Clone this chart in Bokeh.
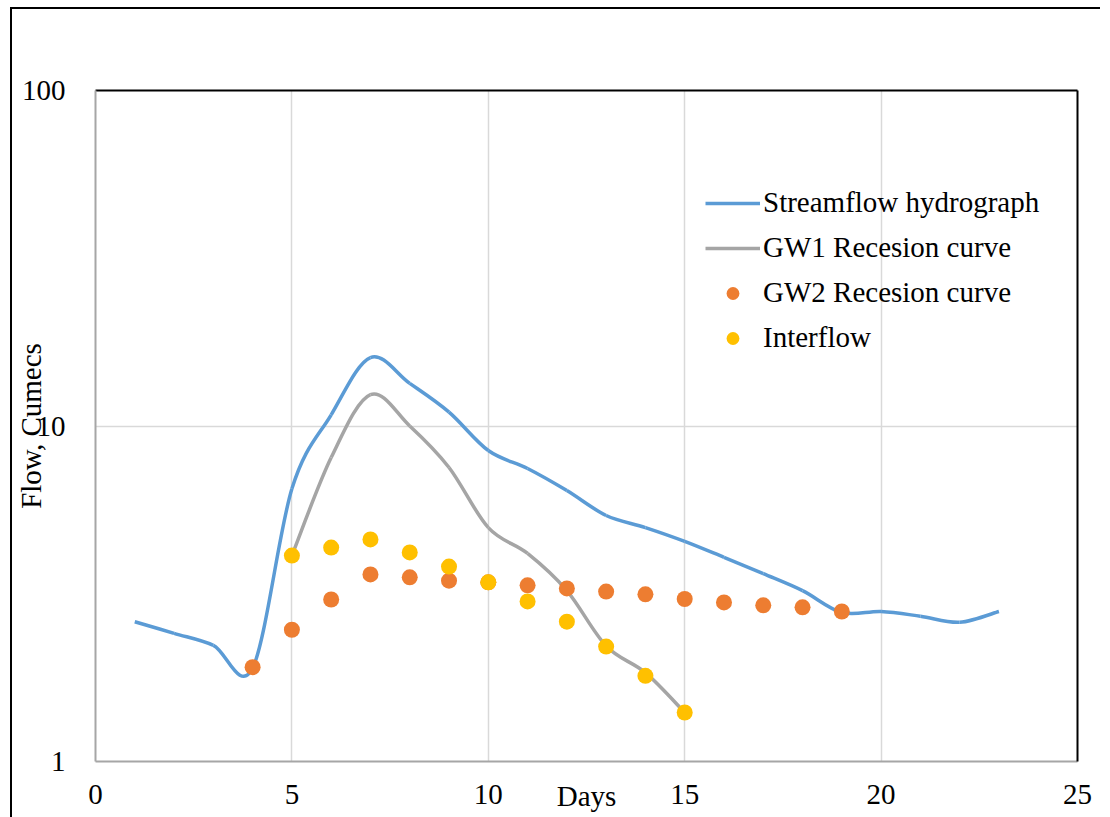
import math
from bokeh.plotting import figure
from bokeh.models import (Range1d, FixedTicker, LinearAxis, Legend, LegendItem,
                          ColumnDataSource)
from bokeh.embed import file_html
from bokeh.resources import INLINE

# ---- data ----
stream_days = list(range(1, 24))
stream_flow = [2.61, 2.41, 2.22, 1.90, 6.5, 10.8, 16.0, 13.4, 11.0, 8.45, 7.47, 6.42,
               5.41, 4.98, 4.53, 4.06, 3.63, 3.23, 2.78, 2.80, 2.71, 2.60, 2.80]

gw1_days = list(range(5, 16))
gw1_flow = [4.11, 8.05, 12.4, 10.0, 7.52, 4.98, 4.17, 3.23, 2.21, 1.84, 1.40]

gw2_days = list(range(4, 20))
gw2_flow = [1.91, 2.47, 3.04, 3.61, 3.54, 3.46, 3.42, 3.35, 3.28, 3.21, 3.15, 3.05,
            2.98, 2.92, 2.88, 2.80]

inter_days = list(range(5, 16))
inter_flow = [4.11, 4.34, 4.59, 4.20, 3.81, 3.42, 3.00, 2.61, 2.20, 1.80, 1.40]

x_ticks = [0, 5, 10, 15, 20, 25]
y_ticks = [1, 10, 100]

FONT = "'Liberation Serif', 'Times New Roman', serif"
BLUE, GREY, ORANGE, YELLOW = "#5B9BD5", "#A5A5A5", "#ED7D31", "#FFC000"


def smooth_segments(xs, ys):
    """Bezier control points (Catmull-Rom in screen space: linear x, log y)."""
    n = len(xs)
    ly = [math.log10(v) for v in ys]
    d = dict(x0=[], y0=[], x1=[], y1=[], cx0=[], cy0=[], cx1=[], cy1=[])
    for i in range(n - 1):
        p = max(i - 1, 0)
        q = min(i + 2, n - 1)
        d["x0"].append(xs[i]); d["y0"].append(ys[i])
        d["x1"].append(xs[i + 1]); d["y1"].append(ys[i + 1])
        d["cx0"].append(xs[i] + (xs[i + 1] - xs[p]) / 6)
        d["cy0"].append(10 ** (ly[i] + (ly[i + 1] - ly[p]) / 6))
        d["cx1"].append(xs[i + 1] - (xs[q] - xs[i]) / 6)
        d["cy1"].append(10 ** (ly[i + 1] - (ly[q] - ly[i]) / 6))
    return ColumnDataSource(d)


p = figure(width=1110, height=817, x_range=Range1d(0, 25), y_range=Range1d(1, 100),
           y_axis_type="log", output_backend="svg", toolbar_location=None,
           min_border_left=95, min_border_right=33, min_border_top=90,
           min_border_bottom=56, background_fill_color="white",
           border_fill_color="white", border_fill_alpha=0)
p.outline_line_color = None
p.styles = {
    "background-color": "white",
    "background-image": "linear-gradient(#000, #000), linear-gradient(#000, #000)",
    "background-size": "2px 100%, 1090px 2px",
    "background-position": "10px 7px, 10px 7px",
    "background-repeat": "no-repeat",
}

# axes
p.xaxis.ticker = FixedTicker(ticks=x_ticks)
p.yaxis.ticker = FixedTicker(ticks=y_ticks, minor_ticks=[])
for ax in (p.xaxis[0], p.yaxis[0]):
    ax.axis_line_color = "#A6A6A6"
    ax.axis_line_width = 2
    ax.major_tick_line_color = None
    ax.minor_tick_line_color = None
    ax.major_label_text_font = FONT
    ax.major_label_text_font_size = "29px"
    ax.major_label_text_font_style = "normal"
    ax.major_label_text_color = "black"
    ax.axis_label_text_font = FONT
    ax.axis_label_text_font_size = "29px"
    ax.axis_label_text_font_style = "normal"
    ax.axis_label_text_color = "black"
p.xaxis.major_label_standoff = 17
p.yaxis.major_label_standoff = 24
p.yaxis.major_label_overrides = {1: "1", 10: "10", 100: "100"}
p.xaxis.axis_label = "Days"
p.xaxis.axis_label_standoff = -27
p.yaxis.axis_label = "Flow, Cumecs"
p.yaxis.axis_label_standoff = -28

for loc in ("right", "above"):
    ax = LinearAxis(ticker=FixedTicker(ticks=[]), axis_line_color="black",
                    axis_line_width=2, major_tick_line_color=None,
                    minor_tick_line_color=None, major_label_text_font_size="0px")
    p.add_layout(ax, loc)

p.xgrid.ticker = FixedTicker(ticks=x_ticks)
p.xgrid.grid_line_color = "#D9D9D9"
p.xgrid.grid_line_width = 1.5
p.ygrid.ticker = FixedTicker(ticks=y_ticks, minor_ticks=[])
p.ygrid.grid_line_color = "#D9D9D9"
p.ygrid.grid_line_width = 1.5

# series
r_stream = p.bezier(x0="x0", y0="y0", x1="x1", y1="y1", cx0="cx0", cy0="cy0",
                    cx1="cx1", cy1="cy1", source=smooth_segments(stream_days, stream_flow),
                    line_color=BLUE, line_width=3.5)
r_gw1 = p.bezier(x0="x0", y0="y0", x1="x1", y1="y1", cx0="cx0", cy0="cy0",
                 cx1="cx1", cy1="cy1", source=smooth_segments(gw1_days, gw1_flow),
                 line_color=GREY, line_width=3.5)
r_gw2 = p.scatter(gw2_days, gw2_flow, size=16, color=ORANGE, line_color=None)
r_int = p.scatter(inter_days, inter_flow, size=16, color=YELLOW, line_color=None)

legend = Legend(items=[
    LegendItem(label="Streamflow hydrograph", renderers=[r_stream]),
    LegendItem(label="GW1 Recesion curve", renderers=[r_gw1]),
    LegendItem(label="GW2 Recesion curve", renderers=[r_gw2]),
    LegendItem(label="Interflow", renderers=[r_int]),
], location=(610, 407), padding=0, margin=0, border_line_color=None,
    background_fill_alpha=0, label_text_font=FONT,
    label_text_font_size="29px", label_text_font_style="normal",
    label_text_color="black", glyph_width=55, glyph_height=32, label_height=32,
    spacing=12, label_standoff=3)
p.add_layout(legend, "center")

open("out.html", "w").write(file_html(p, INLINE))
